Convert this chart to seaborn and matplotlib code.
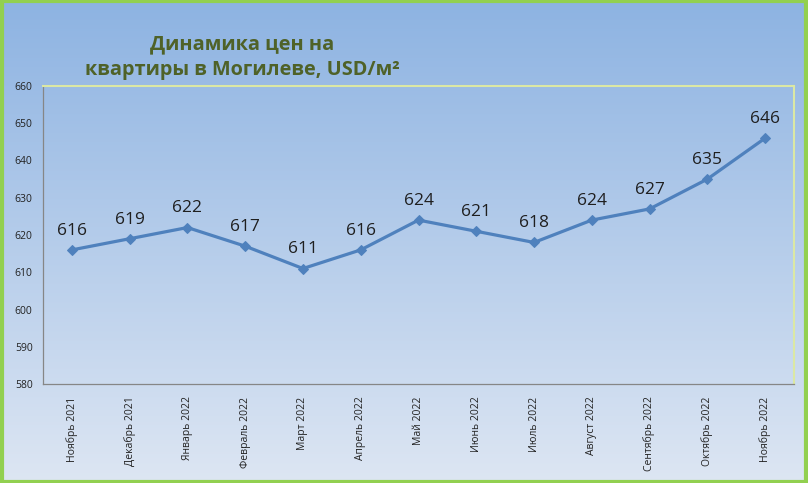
import numpy as np
import seaborn as sns
import matplotlib.pyplot as plt
from matplotlib.patches import Rectangle

months = ['Ноябрь 2021', 'Декабрь 2021', 'Январь 2022', 'Февраль 2022', 'Март 2022',
          'Апрель 2022', 'Май 2022', 'Июнь 2022', 'Июль 2022', 'Август 2022',
          'Сентябрь 2022', 'Октябрь 2022', 'Ноябрь 2022']
prices = [616, 619, 622, 617, 611, 616, 624, 621, 618, 624, 627, 635, 646]
yticks = [580, 590, 600, 610, 620, 630, 640, 650, 660]

sns.set_style('white')
plt.rcParams['font.family'] = ['Open Sans', 'DejaVu Sans']

W, H = 808, 483
fig = plt.figure(figsize=(W / 100, H / 100), dpi=100)

# gradient background
bg = fig.add_axes([0, 0, 1, 1])
top = np.array([0x8d, 0xb3, 0xe2]) / 255
bot = np.array([0xdd, 0xe6, 0xf3]) / 255
t = np.linspace(0, 1, 256)[:, None]
grad = (top * (1 - t) + bot * t)[:, None, :]
bg.imshow(grad, aspect='auto', extent=[0, 1, 0, 1])
bg.set_axis_off()
fig.add_artist(Rectangle((0.002, 0.003), 0.996, 0.994, transform=fig.transFigure,
                         fill=False, edgecolor='#92d050', linewidth=3))

ax = fig.add_axes([43 / W, (H - 384) / H, (794 - 43) / W, (384 - 86) / H])
ax.set_facecolor('none')
x = np.arange(len(months))
sns.lineplot(x=x, y=prices, ax=ax, color='#4f81bd', linewidth=2.3,
             marker='D', markersize=5, markeredgecolor='#4f81bd')

for xi, v in zip(x, prices):
    ax.annotate(str(v), (xi, v), xytext=(0, 8), textcoords='offset points',
                ha='center', va='bottom', fontsize=12.5, color='#1f1f1f')

ax.set_xlim(-0.5, len(months) - 0.5)
ax.set_ylim(580, 660)
ax.set_yticks(yticks)
ax.set_xticks(x)
ax.set_xticklabels(months, rotation=90, fontsize=7.5, color='#222222')
ax.set_xticks(np.arange(-0.5, len(months)), minor=True)
ax.tick_params(axis='x', which='major', length=0, pad=9)
ax.tick_params(axis='x', which='minor', length=5, color='#868686', direction='out')
ax.tick_params(axis='y', length=4, color='#868686', direction='out',
               labelsize=7.5, labelcolor='#222222')
for s in ['left', 'bottom']:
    ax.spines[s].set_color('#868686')
    ax.spines[s].set_linewidth(0.9)
for s in ['top', 'right']:
    ax.spines[s].set_color('#dbe8a4')
    ax.spines[s].set_linewidth(1.5)
ax.set_xlabel('')
ax.set_ylabel('')

fig.text(242 / W, 1 - 57 / H, 'Динамика цен на\nквартиры в Могилеве, USD/м²',
         ha='center', va='center', fontsize=14.3, fontweight='bold',
         color='#4f6228', linespacing=1.4)

fig.savefig('out.png', dpi=100)
